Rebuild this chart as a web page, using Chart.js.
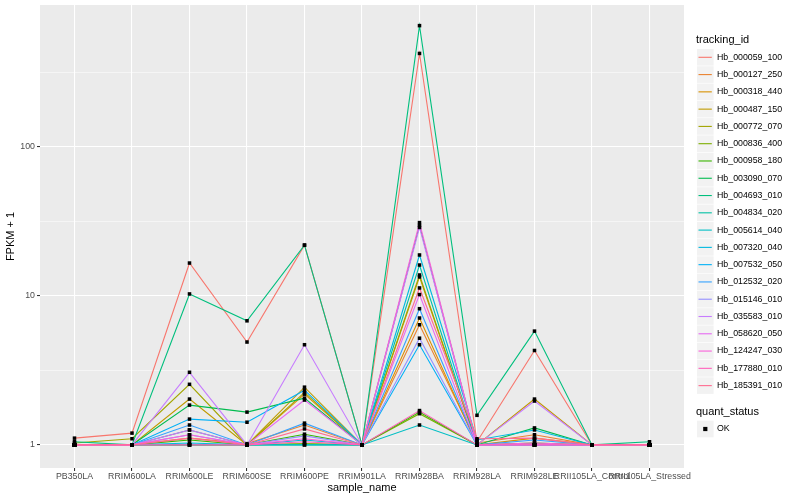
<!DOCTYPE html>
<html><head><meta charset="utf-8">
<script src="https://cdn.jsdelivr.net/npm/chart.js@4/dist/chart.umd.min.js"></script>
<style>html,body{margin:0;padding:0;background:#fff}#wrap{width:800px;height:500px}</style>
</head><body><div id="wrap"><canvas id="c" width="800" height="500"></canvas></div>
<script>
const categories = ["PB350LA","RRIM600LA","RRIM600LE","RRIM600SE","RRIM600PE","RRIM901LA","RRIM928BA","RRIM928LA","RRIM928LE","RRII105LA_Control","RRII105LA_Stressed"];
const trackingIds = ["Hb_000059_100","Hb_000127_250","Hb_000318_440","Hb_000487_150","Hb_000772_070","Hb_000836_400","Hb_000958_180","Hb_003090_070","Hb_004693_010","Hb_004834_020","Hb_005614_040","Hb_007320_040","Hb_007532_050","Hb_012532_020","Hb_015146_010","Hb_035583_010","Hb_058620_050","Hb_124247_030","Hb_177880_010","Hb_185391_010"];
const colors = ["#F8766D","#EA8331","#D89000","#C09B00","#A3A500","#7CAE00","#39B600","#00BB4E","#00BF7D","#00C1A3","#00BFC4","#00BAE0","#00B0F6","#35A2FF","#9590FF","#C77CFF","#E76BF3","#FA62DB","#FF62BC","#FF6C91"];
const s00 = [1.11, 1.2, 16.6, 4.9, 21.9, 1.0, 423, 1.05, 4.3, 1.0, 1.0];
const s01 = [1.0, 1.0, 1.11, 1.02, 1.36, 1.0, 6.4, 1.03, 1.17, 1.0, 1.0];
const s02 = [1.0, 1.0, 1.0, 1.0, 2.19, 1.0, 7.1, 1.0, 1.11, 1.0, 1.0];
const s03 = [1.0, 1.0, 2.03, 1.0, 2.44, 1.0, 13.4, 1.0, 2.03, 1.0, 1.0];
const s04 = [1.03, 1.1, 2.55, 1.0, 2.25, 1.0, 13.8, 1.0, 1.0, 1.0, 1.0];
const s05 = [1.0, 1.0, 1.0, 1.0, 1.02, 1.0, 1.62, 1.0, 1.0, 1.0, 1.0];
const s06 = [1.0, 1.0, 1.08, 1.0, 1.18, 1.0, 1.66, 1.0, 1.03, 1.0, 1.0];
const s07 = [1.0, 1.0, 1.85, 1.66, 2.06, 1.0, 29.7, 1.0, 1.30, 1.0, 1.0];
const s08 = [1.05, 1.0, 10.3, 6.8, 21.9, 1.0, 650, 1.58, 5.8, 1.0, 1.05];
const s09 = [1.0, 1.0, 1.26, 1.0, 1.0, 1.0, 16.1, 1.0, 1.0, 1.0, 1.0];
const s10 = [1.0, 1.0, 1.0, 1.0, 1.0, 1.0, 1.36, 1.0, 1.0, 1.0, 1.0];
const s11 = [1.0, 1.0, 1.03, 1.0, 1.08, 1.0, 18.8, 1.08, 1.26, 1.0, 1.0];
const s12 = [1.0, 1.0, 1.49, 1.42, 2.33, 1.0, 4.7, 1.0, 1.0, 1.0, 1.0];
const s13 = [1.0, 1.0, 1.36, 1.0, 1.40, 1.0, 8.2, 1.0, 1.08, 1.0, 1.0];
const s14 = [1.0, 1.0, 1.17, 1.0, 1.15, 1.0, 5.2, 1.0, 1.0, 1.0, 1.0];
const s15 = [1.0, 1.0, 3.07, 1.0, 4.7, 1.0, 28.8, 1.0, 1.97, 1.0, 1.0];
const s16 = [1.0, 1.0, 1.26, 1.0, 2.0, 1.0, 10.2, 1.0, 1.0, 1.0, 1.0];
const s17 = [1.0, 1.0, 1.17, 1.0, 1.1, 1.0, 31, 1.0, 1.03, 1.0, 1.0];
const s18 = [1.0, 1.0, 1.0, 1.0, 1.05, 1.0, 1.7, 1.0, 1.0, 1.0, 1.0];
const s19 = [1.0, 1.0, 1.11, 1.0, 1.28, 1.0, 11.3, 1.1, 1.11, 1.0, 1.0];
const seriesValues = [s00,s01,s02,s03,s04,s05,s06,s07,s08,s09,s10,s11,s12,s13,s14,s15,s16,s17,s18,s19];
const yTicks = [1, 3.1623, 10, 31.623, 100, 316.23];
const yLabels = ["1", "", "10", "", "100", ""];
const statusLabels = ["OK"];

const FONT = "'Liberation Sans', Arial, sans-serif";

const lineSets = seriesValues.map((vals, i) => ({
  type: 'line',
  label: trackingIds[i],
  data: vals.map((v, j) => ({x: j, y: v})),
  borderColor: colors[i],
  backgroundColor: colors[i],
  borderWidth: 1.1,
  pointRadius: 0,
  fill: false,
  tension: 0,
  order: 21 - i
}));
const pointSet = {
  type: 'scatter',
  label: statusLabels[0],
  data: seriesValues.flatMap(vals => vals.map((v, j) => ({x: j, y: v}))),
  pointStyle: 'rect',
  pointRadius: 2.5,
  backgroundColor: '#000',
  borderColor: '#000',
  borderWidth: 0,
  order: 0
};

const panelBg = {
  id: 'panelBg',
  beforeDraw(chart) {
    const {ctx, chartArea: a} = chart;
    ctx.save();
    ctx.fillStyle = '#EBEBEB';
    ctx.fillRect(a.left, a.top, a.right - a.left, a.bottom - a.top);
    ctx.restore();
  }
};

const legendPlugin = {
  id: 'ggLegend',
  afterDraw(chart) {
    const ctx = chart.ctx;
    ctx.save();
    ctx.textBaseline = 'middle';
    ctx.textAlign = 'left';
    ctx.fillStyle = '#000';
    ctx.font = `11px ${FONT}`;
    ctx.fillText('tracking_id', 696, 40);
    const y0 = 57.3, dy = 17.28;
    ctx.font = `8.8px ${FONT}`;
    trackingIds.forEach((id, i) => {
      const cy = y0 + i * dy;
      ctx.fillStyle = '#F2F2F2';
      ctx.fillRect(697, cy - 8.3, 16.6, 16.6);
      ctx.strokeStyle = colors[i];
      ctx.lineWidth = 1.1;
      ctx.beginPath();
      ctx.moveTo(698.5, cy);
      ctx.lineTo(711.8, cy);
      ctx.stroke();
      ctx.fillStyle = '#000';
      ctx.fillText(id, 717, cy);
    });
    ctx.font = `11px ${FONT}`;
    ctx.fillText('quant_status', 696, 412);
    const cy = 429;
    ctx.fillStyle = '#F2F2F2';
    ctx.fillRect(697, cy - 8.3, 16.6, 16.6);
    ctx.fillStyle = '#000';
    ctx.fillRect(705.3 - 2.1, cy - 2.1, 4.2, 4.2);
    ctx.font = `8.8px ${FONT}`;
    ctx.fillText(statusLabels[0], 717, cy);
    ctx.restore();
  }
};

new Chart(document.getElementById('c'), {
  data: { datasets: [pointSet, ...lineSets] },
  options: {
    responsive: false,
    animation: false,
    devicePixelRatio: 1,
    layout: { padding: { top: 5, right: 116, left: 0, bottom: 0 } },
    plugins: { legend: { display: false }, tooltip: { enabled: false } },
    scales: {
      x: {
        type: 'linear',
        min: -0.6, max: categories.length - 1 + 0.6,
        afterBuildTicks: s => { s.ticks = categories.map((c, i) => ({value: i})); },
        afterFit: s => { s.height = 32; s.paddingLeft = 0; s.paddingRight = 0; },
        border: { display: false },
        grid: { color: '#FFFFFF', lineWidth: 1.07, tickColor: '#333333', tickLength: 3, tickWidth: 1.07, drawTicks: true },
        ticks: {
          autoSkip: false, maxRotation: 0, minRotation: 0, padding: 0,
          color: '#4D4D4D', font: { family: FONT, size: 8.8 },
          callback: v => categories[v] ?? ''
        },
        title: { display: true, text: 'sample_name', color: '#000', font: { family: FONT, size: 11 }, padding: { top: 0, bottom: 5 } }
      },
      y: {
        type: 'logarithmic',
        min: 0.732, max: 894,
        afterBuildTicks: s => { s.ticks = yTicks.map(v => ({value: v})); },
        afterFit: s => { s.width = 40; s.paddingTop = 0; s.paddingBottom = 0; },
        border: { display: false },
        grid: {
          color: '#FFFFFF',
          lineWidth: c => (yLabels[yTicks.indexOf(c.tick && c.tick.value)] ? 1.07 : 0.53),
          tickColor: c => (yLabels[yTicks.indexOf(c.tick && c.tick.value)] ? '#333333' : 'rgba(0,0,0,0)'),
          tickLength: 3, tickWidth: 1.07
        },
        ticks: {
          autoSkip: false, padding: 2,
          color: '#4D4D4D', font: { family: FONT, size: 8.8 },
          callback: v => { const k = yTicks.indexOf(v); return k >= 0 ? yLabels[k] : ''; }
        },
        title: { display: true, text: 'FPKM + 1', color: '#000', font: { family: FONT, size: 11 }, padding: { top: 4, bottom: 0 } }
      }
    }
  },
  plugins: [panelBg, legendPlugin]
});
</script>
</body></html>
